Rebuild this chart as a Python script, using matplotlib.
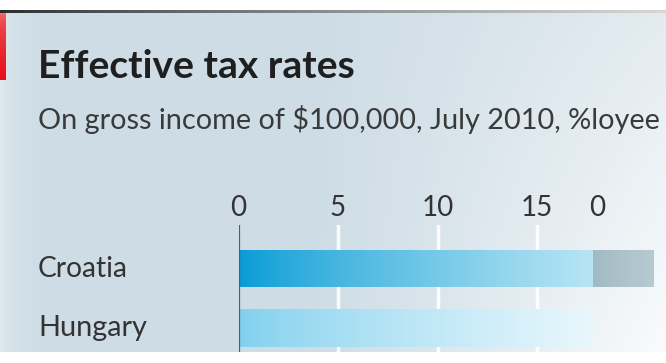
import numpy as np
import matplotlib
matplotlib.use("Agg")
import matplotlib.pyplot as plt
from matplotlib.colors import to_rgb

# ---- data ----
countries = ["Croatia", "Hungary"]
blue_values = [17.8, 17.8]
grey_values = [3.05, 0.0]
tick_values = [0, 5, 10, 15, 18.0]
tick_labels = ["0", "5", "10", "15", "0"]
grid_values = [5, 10, 15]
title = "Effective tax rates"
subtitle = "On gross income of $100,000, July 2010, %loyee"

FONT = "Lato"
plt.rcParams["font.family"] = [FONT, "DejaVu Sans"]

W, H = 666, 363
fig = plt.figure(figsize=(W / 100, H / 100), dpi=100)
renderer = fig.canvas.get_renderer()


def fit_text(txt, target_w):
    fs = txt.get_fontsize()
    for _ in range(3):
        wpx = txt.get_window_extent(renderer).width
        fs = fs * target_w / wpx
        txt.set_fontsize(fs)
    return txt


# ---- background ----
yy, xx = np.mgrid[0:H, 0:W].astype(float)
base = np.array(to_rgb("#cddce5"))
white = np.ones(3)
w = 0.35 * np.exp(-xx / 18.0)
wr = np.clip((xx - 300) / 380.0, 0, 1) ** 1.1
w = w + wr * (0.45 + 0.5 * (yy / H))
w = np.clip(w, 0, 0.85)
img = base[None, None, :] * (1 - w[..., None]) + white[None, None, :] * w[..., None]
img[:10] = 1.0
img[352:] = 1.0
t = np.clip(xx[10:13] / W, 0, 1)[..., None]
dark = np.array(to_rgb("#2a2a2a"))
light = np.array(to_rgb("#d8d8d8"))
img[10:13] = dark * (1 - t ** 0.8) + light * t ** 0.8
ry = np.linspace(0, 1, 80 - 13)[:, None, None]
red_top = np.array(to_rgb("#f07070"))
red_bot = np.array(to_rgb("#e8101a"))
img[13:80, 0:6] = red_top * (1 - ry ** 0.5) + red_bot * ry ** 0.5

bg = fig.add_axes([0, 0, 1, 1])
bg.imshow(img, extent=(0, W, H, 0), aspect="auto", interpolation="bilinear")
bg.set_xlim(0, W)
bg.set_ylim(H, 0)
bg.axis("off")

# ---- texts ----
tt = fig.text(38 / W, 1 - 78 / H, title, fontsize=25, fontweight="bold",
              color="#1f1f1f", ha="left", va="baseline")
fit_text(tt, 317)
st = fig.text(38 / W, 1 - 129 / H, subtitle, fontsize=18.5,
              color="#3a3a3a", ha="left", va="baseline")
fit_text(st, 622)

# ---- main axes ----
x0_px, top_px, bot_px = 238.5, 225, 352
scale = 19.9
ax = fig.add_axes([x0_px / W, 1 - bot_px / H, (W - x0_px) / W, (bot_px - top_px) / H])
ax.patch.set_alpha(0)
xmax = (W - x0_px) / scale
ypos = np.arange(len(countries))
ylim = (1.40, -0.73)

for g in grid_values:
    ax.axvline(g, color="white", lw=2.5, zorder=1, alpha=0.9)

bh = 0.63
grad_specs = [
    [("#069bd5", "#b8e5f4"), ("#a0b9c3", "#b7cad1")],
    [("#80d0ee", "#e9f7fc"), ("#a0b9c3", "#b7cad1")],
]
for i, (c, b, gv) in enumerate(zip(countries, blue_values, grey_values)):
    segs = [(0, b), (b, gv)]
    for j, (left, width) in enumerate(segs):
        if width <= 0:
            continue
        bar = ax.barh(ypos[i], width, left=left, height=bh, color="none",
                      edgecolor="none", zorder=2)[0]
        c1, c2 = grad_specs[i][j]
        g = np.linspace(0, 1, 256)[None, :, None] ** 0.8
        gimg = np.array(to_rgb(c1)) * (1 - g) + np.array(to_rgb(c2)) * g
        im = ax.imshow(gimg, extent=(left, left + width, ypos[i] + bh / 2, ypos[i] - bh / 2),
                       aspect="auto", zorder=2, interpolation="bilinear")
        im.set_clip_path(bar)

ax.axvline(0, color="#5a5a5a", lw=1.6, zorder=3)
ax.set_xlim(0, xmax)
ax.set_ylim(*ylim)

ax.xaxis.tick_top()
ax.set_xticks(tick_values)
ax.set_xticklabels(tick_labels, fontsize=20, color="#333333")
ax.tick_params(axis="x", length=0, pad=3)
ax.set_yticks([])
for s in ax.spines.values():
    s.set_visible(False)

label_widths = [90, 109]
for i, c in enumerate(countries):
    yc = top_px + (ypos[i] - ylim[1]) / (ylim[0] - ylim[1]) * (bot_px - top_px)
    lt = fig.text(38 / W, 1 - yc / H, c, fontsize=20, color="#333333",
                  ha="left", va="center")
    fit_text(lt, label_widths[i])

fig.savefig("out.png", dpi=100)
